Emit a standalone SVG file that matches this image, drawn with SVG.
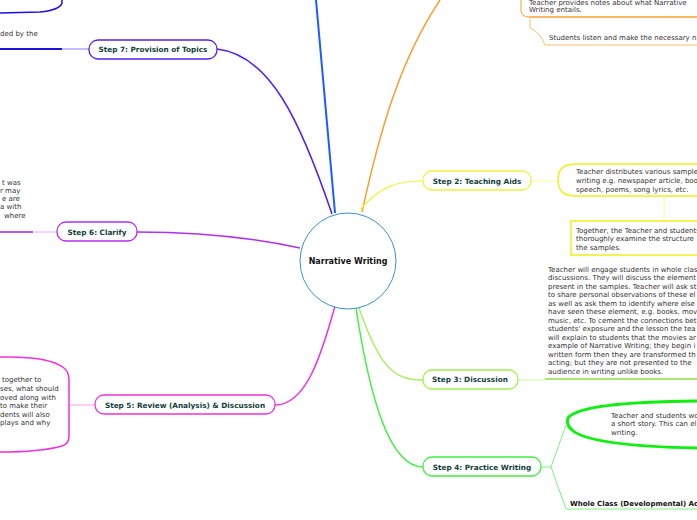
<svg xmlns="http://www.w3.org/2000/svg" width="697" height="520" viewBox="0 0 697 520">
<style>
text{font-family:"DejaVu Sans",Verdana,sans-serif;font-size:7px;fill:#333}
.b{font-weight:bold;fill:#12403a;font-size:7.3px}
.n{fill:#fff;stroke-width:1.3}
path{fill:none}
</style>
<rect width="697" height="520" fill="#fff"/>
<g id="connectors">
<path d="M335,213 L316,0" stroke="#1a5cff" stroke-width="2"/>
<path d="M362,212 C380,130 400,60 440,0" stroke="#f5a030" stroke-width="1.5"/>
<path d="M530,18 L530,28 Q540,32 545,45 L697,45" stroke="#f5c070" stroke-width="1"/>
<path d="M530,17 L697,17" stroke="#f5a030" stroke-width="1.5"/>
<path d="M332,214 C300,120 270,55 217,49" stroke="#5020f0" stroke-width="1.5"/>
<path d="M89,49 L62,49" stroke="#8a7cff" stroke-width="1"/>
<path d="M0,49 L62,49" stroke="#2010e0" stroke-width="2"/>
<path d="M62,0 L62,3 Q60,10 40,12 L0,13" stroke="#2010e0" stroke-width="1.5"/>
<path d="M300,248 C240,235 180,232 137,232" stroke="#b030f0" stroke-width="1.5"/>
<path d="M57,232 L33,232" stroke="#e0b0ff" stroke-width="1"/>
<path d="M0,232 L33,232" stroke="#a020e0" stroke-width="1.5"/>
<path d="M335,306 C320,360 305,405 275,405" stroke="#f030e0" stroke-width="1.5"/>
<path d="M95,405 L70,405" stroke="#f8c0f0" stroke-width="1.5"/>
<path d="M358,305 C380,370 395,380 423,380" stroke="#a0f050" stroke-width="1.3"/>
<path d="M518,380 L545,380" stroke="#d0f8a0" stroke-width="1"/>
<path d="M545,379 L697,379" stroke="#90e040" stroke-width="1.5"/>
<path d="M360,210 C380,185 400,181 423,181" stroke="#f0f040" stroke-width="1.2"/>
<path d="M531,181 L558,181" stroke="#f8f8a0" stroke-width="1"/>
<path d="M664,196 L664,221" stroke="#f8f8a0" stroke-width="1"/>
<path d="M356,308 C370,400 390,467 423,467" stroke="#40f040" stroke-width="1.5"/>
<path d="M541,467 L551,467 L566,425 M551,467 L566,509 L697,509" stroke="#80f080" stroke-width="1"/>
</g>
<g id="center"><circle cx="348" cy="261" r="48" fill="#fff" stroke="#3a90d0" stroke-width="1"/><text x="348" y="264" text-anchor="middle" style="font-weight:bold;fill:#111;font-size:8px">Narrative Writing</text></g>
<g id="step1"><path d="M521,0 L521,10 Q521,17 530,17" stroke="#f5a030" stroke-width="1"/><text x="529" y="5">Teacher provides notes about what Narrative</text><text x="529" y="12">Writing entails.</text><text x="549" y="40">Students listen and make the necessary n</text></g>
<g id="step7"><rect class="n" x="89" y="40" width="128" height="19" rx="9" stroke="#5020f0"/><text class="b" x="153" y="52" text-anchor="middle">Step 7: Provision of Topics</text><text x="0" y="36">ded by the</text></g>
<g id="step6"><rect class="n" x="57" y="222" width="80" height="19" rx="9" stroke="#b030f0"/><text class="b" x="97" y="235" text-anchor="middle">Step 6: Clarify</text><text x="2" y="185">t was</text><text x="0" y="193">r may</text><text x="2" y="201">e are</text><text x="0" y="209">a with</text><text x="4" y="218">where</text></g>
<g id="step5"><rect class="n" x="95" y="395" width="180" height="19" rx="9" stroke="#f030e0"/><text class="b" x="185" y="408" text-anchor="middle">Step 5: Review (Analysis) &amp; Discussion</text>
<path d="M0,357 Q50,356 64,368 Q69,372 69,380 L69,436 Q69,444 62,446 Q40,452 0,452" stroke="#f030e0" stroke-width="1.5"/>
<text x="2" y="382">together to</text><text x="0" y="391">ses, what should</text><text x="0" y="400">oved along with</text><text x="0" y="408"> to make their</text><text x="0" y="417">dents will also</text><text x="0" y="425"> plays and why</text></g>
<g id="step2"><rect class="n" x="423" y="171" width="108" height="19" rx="9" stroke="#f0f040"/><text class="b" x="477" y="184" text-anchor="middle">Step 2: Teaching Aids</text>
<path d="M697,164 L575,164 Q558,164 558,180 Q558,196 575,196 L697,196" stroke="#f0f020" stroke-width="1.5"/>
<text x="576" y="174">Teacher distributes various sample</text><text x="576" y="183">writing e.g. newspaper article, boo</text><text x="576" y="192">speech, poems, song lyrics, etc.</text>
<path d="M697,221 L571,221 L571,255 L697,255" stroke="#f0f020" stroke-width="1.5"/>
<text x="576" y="233">Together, the Teacher and students</text><text x="576" y="241">thoroughly examine the structure</text><text x="576" y="250">the samples.</text></g>
<g id="step3"><rect class="n" x="423" y="370" width="95" height="19" rx="9" stroke="#a0f050"/><text class="b" x="470" y="382" text-anchor="middle">Step 3: Discussion</text>
<text x="548" y="272">Teacher will engage students in whole clas</text><text x="548" y="280">discussions. They will discuss the element</text><text x="548" y="289">present in the samples. Teacher will ask st</text><text x="548" y="297">to share personal observations of these el</text><text x="548" y="306">as well as ask them to identify where else</text><text x="548" y="314">have seen these element, e.g. books, mov</text><text x="548" y="323">music, etc. To cement the connections bet</text><text x="548" y="331">students' exposure and the lesson the tea</text><text x="548" y="340">will explain to students that the movies ar</text><text x="548" y="348">example of Narrative Writing; they begin i</text><text x="548" y="357">written form then they are transformed th</text><text x="548" y="365">acting; but they are not presented to the</text><text x="548" y="374">audience in writing unlike books.</text></g>
<g id="step4"><rect class="n" x="423" y="457" width="118" height="19" rx="9" stroke="#40f040"/><text class="b" x="482" y="470" text-anchor="middle">Step 4: Practice Writing</text>
<path d="M697,401 Q580,402 568,418 Q566,425 572,430 Q590,446 697,448" stroke="#10f010" stroke-width="3"/>
<text x="611" y="418">Teacher and students wo</text><text x="611" y="426">a short story. This can el</text><text x="611" y="435">writing.</text>
<text x="570" y="506" style="font-weight:bold;fill:#111">Whole Class (Developmental) Ac</text></g>
</svg>
